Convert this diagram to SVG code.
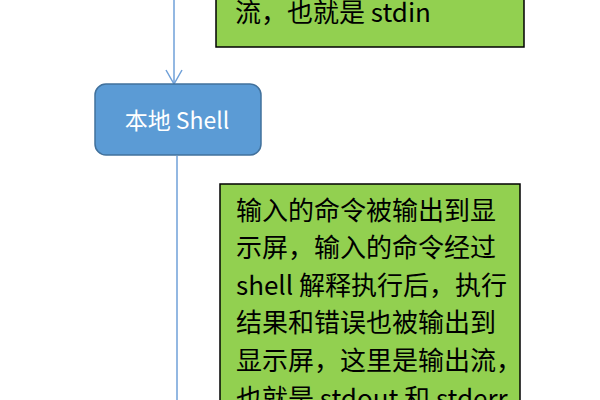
<svg xmlns="http://www.w3.org/2000/svg" width="600" height="400" viewBox="0 0 600 400">
<style>
.note{fill:#92D050;stroke:#000;stroke-width:1.5}
.t{font-family:"Noto Sans CJK SC","Noto Sans",sans-serif;font-size:26px;fill:#000}
.conn{fill:none;stroke:#6FA0D8;stroke-width:1.5}
</style>
<defs>
<marker id="arr" viewBox="0 0 16 18" refX="15" refY="9" markerWidth="16" markerHeight="18" markerUnits="userSpaceOnUse" orient="auto">
<path d="M1 1 L15 9 L1 17" fill="none" stroke="#6FA0D8" stroke-width="1.5"/>
</marker>
</defs>
<g id="connectors">
<line class="conn" x1="174" y1="0" x2="174" y2="84" marker-end="url(#arr)"/>
<line class="conn" x1="177" y1="156" x2="177" y2="400"/>
</g>
<g id="note-stdin">
<rect class="note" x="216" y="-20" width="308" height="67"/>
<text class="t" x="235" y="22">流，也就是 stdin</text>
</g>
<g id="local-shell">
<rect x="95" y="84" width="166" height="71" rx="11" fill="#5B9BD5" stroke="#41719C" stroke-width="1.5"/>
<text x="177" y="129" text-anchor="middle" font-family="'Noto Sans CJK SC','Noto Sans',sans-serif" font-size="23" fill="#fff">本地 Shell</text>
</g>
<g id="note-stdout">
<rect class="note" x="220" y="184" width="300" height="240"/>
<text class="t" x="236" y="220">输入的命令被输出到显</text>
<text class="t" x="236" y="257">示屏，输入的命令经过</text>
<text class="t" x="236" y="295">shell 解释执行后，执行</text>
<text class="t" x="236" y="332">结果和错误也被输出到</text>
<text class="t" x="236" y="370">显示屏，这里是输出流，</text>
<text class="t" x="236" y="408">也就是 stdout 和 stderr</text>
</g>
</svg>
